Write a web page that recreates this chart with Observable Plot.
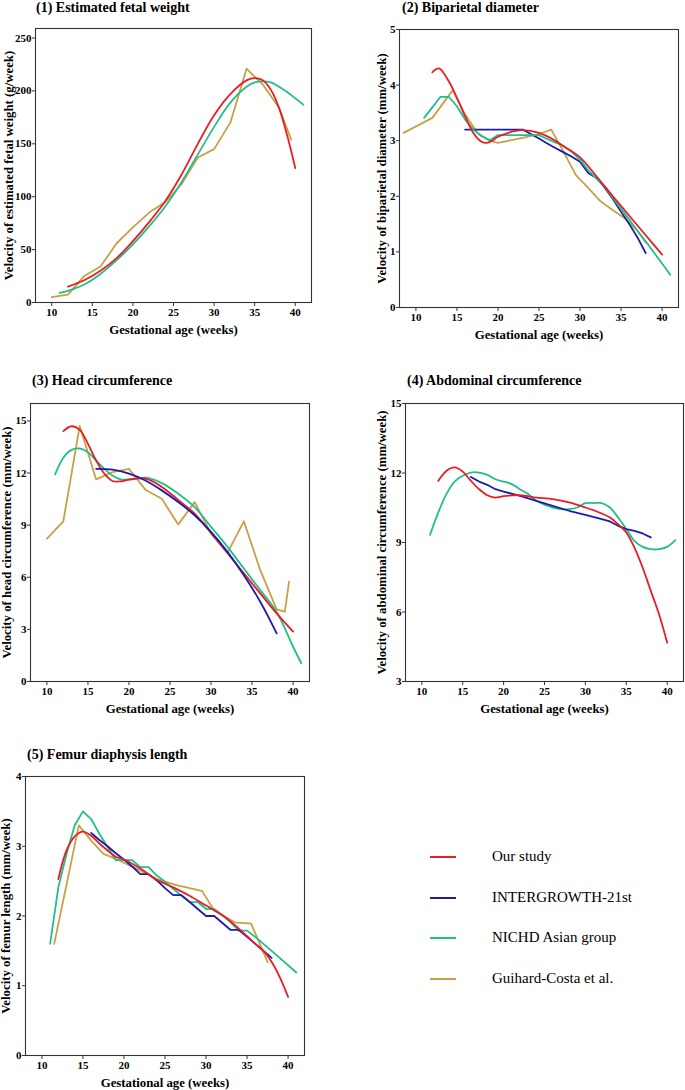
<!DOCTYPE html>
<html>
<head>
<meta charset="utf-8">
<script src="https://cdn.jsdelivr.net/npm/d3@7"></script>
<script src="https://cdn.jsdelivr.net/npm/@observablehq/plot@0.6"></script>
<style>
  body { margin: 0; background: #fff; }
  #root { position: relative; width: 685px; height: 1090px; font-family: "Liberation Serif", "Times New Roman", serif; overflow: hidden; }
  .title { position: absolute; font-weight: bold; font-size: 14px; line-height: 16px; white-space: nowrap; color: #000; }
  .leg { position: absolute; font-size: 15px; line-height: 18px; white-space: nowrap; color: #000; }
  .sw { position: absolute; height: 0; width: 26px; border-top: 2px solid; }
</style>
</head>
<body>
<div id="root"></div>
<script>
// ---------------- data ----------------
const seriesNames = ["Our study", "INTERGROWTH-21st", "NICHD Asian group", "Guihard-Costa et al."];
const xTicks = [10, 15, 20, 25, 30, 35, 40];
const xLabel = "Gestational age (weeks)";

const panelTitles = ["(1) Estimated fetal weight", "(2) Biparietal diameter", "(3) Head circumference", "(4) Abdominal circumference", "(5) Femur diaphysis length"];
const yLabels = [
  "Velocity of estimated fetal weight (g/week)",
  "Velocity of biparietal diameter (mm/week)",
  "Velocity of head circumference (mm/week)",
  "Velocity of abdominal circumference (mm/week)",
  "Velocity of femur length (mm/week)"
];
const efwTicks = [0, 50, 100, 150, 200, 250];
const bpdTicks = [0, 1, 2, 3, 4, 5];
const hcTicks = [0, 3, 6, 9, 12, 15];
const acTicks = [3, 6, 9, 12, 15];
const flTicks = [0, 1, 2, 3, 4];

// (1) Estimated fetal weight  [week, velocity]
const efwOur = [[12,15],[14,21],[16,30],[18,42],[20,58],[22,76],[24,96],[26,121],[28,150],[30,177],[32,197],[34,210],[35,212],[36,210],[37,201],[38,184],[39,158],[40,127]];
const efwNichd = [[11,9],[12,11],[14,17],[16,27],[18,40],[20,55],[22,72],[24,91],[26,114],[28,140],[30,166],[32,189],[34,204],[35,208],[36,209],[37,208],[38,204],[39,199],[40,193],[41,187]];
const efwGuihard = [[10,5],[12,7.5],[14,25],[16,34],[18,56],[20,71],[22,85],[24,95],[26,112],[28,137],[30,145],[32,170],[34,221],[36,206],[38,184],[39.5,154]];

// (2) Biparietal diameter
const bpdOur = [[12,4.23],[12.8,4.3],[14,4.07],[15,3.77],[16,3.44],[17,3.14],[18,2.98],[18.6,2.96],[19.3,3.0],[20,3.07],[22,3.17],[23,3.19],[25,3.14],[27,3.0],[28,2.9],[30,2.7],[32,2.36],[34,2.0],[36,1.65],[38,1.3],[40,0.95]];
const bpdIntergrowth = [[16,3.2],[18,3.2],[20,3.2],[22,3.2],[23,3.2],[24,3.12],[25,3.04],[26,2.95],[27,2.87],[28,2.79],[29,2.71],[30,2.62],[31,2.42],[32,2.33],[33,2.16],[34,1.95],[35,1.72],[36,1.5],[37,1.26],[38,0.98]];
const bpdNichd = [[11,3.41],[12,3.6],[13,3.79],[14,3.79],[15,3.62],[16,3.38],[17,3.2],[18,3.08],[19,3.01],[20,3.1],[21,3.1],[22,3.1],[23,3.1],[24,3.1],[25,3.1],[26,3.03],[27,2.97],[28,2.9],[29,2.8],[30,2.66],[31,2.47],[32,2.32],[33,2.18],[34,1.97],[35,1.77],[36,1.58],[37,1.38],[38,1.19],[39,0.99],[40,0.79],[41,0.59]];
const bpdGuihard = [[8.5,3.14],[12,3.41],[14.5,3.91],[16,3.47],[17.5,3.14],[19,3.0],[20,2.96],[23,3.05],[25,3.12],[26.5,3.2],[28,2.8],[29.5,2.38],[31,2.15],[32.5,1.91],[34,1.75],[35.5,1.6],[37,1.38],[38,1.17]];

// (3) Head circumference
const hcOur = [[12,14.41],[13,14.69],[14,14.48],[15,13.68],[16,12.72],[17,11.96],[18,11.54],[19,11.52],[20,11.62],[22,11.67],[24,11.2],[26,10.45],[28,9.66],[30,8.55],[32,7.4],[34,6.22],[36,5.07],[38,3.92],[40,2.87]];
const hcIntergrowth = [[16,12.24],[18,12.19],[20,11.96],[22,11.57],[24,11.0],[26,10.33],[28,9.57],[30,8.61],[32,7.46],[34,6.12],[36,4.59],[38,2.77]];
const hcNichd = [[11,11.92],[12,12.88],[13,13.33],[14,13.41],[15,13.2],[16,12.72],[17,12.24],[18,11.86],[19,11.63],[20,11.63],[22,11.73],[24,11.42],[26,10.81],[28,10.04],[30,8.9],[32,7.75],[34,6.5],[36,5.26],[38,4.0],[40,2.0],[41,1.05]];
const hcGuihard = [[10,8.23],[12,9.22],[14,14.71],[16,11.63],[18,12.05],[20,12.24],[22,11.04],[24,10.52],[26,9.03],[28,10.33],[30,8.51],[32,7.4],[34,9.22],[36,6.41],[38,4.15],[39,4.02],[39.5,5.74]];

// (4) Abdominal circumference
const acOur = [[12,11.66],[13,12.09],[14,12.24],[15,12.06],[16,11.66],[17,11.3],[18,11.04],[19,10.94],[20,11.0],[22,11.04],[24,10.94],[26,10.87],[28,10.73],[30,10.51],[32,10.25],[33,10.08],[34,9.79],[35,9.43],[36,8.78],[37,7.92],[38,6.91],[39,5.91],[40,4.68]];
const acIntergrowth = [[16,11.83],[17,11.63],[18,11.49],[19,11.3],[20,11.2],[22,11.01],[24,10.8],[26,10.58],[28,10.37],[30,10.19],[32,10.01],[33,9.91],[34,9.72],[35,9.58],[36,9.5],[37,9.39],[38,9.22]];
const acNichd = [[11,9.33],[12,10.29],[13,11.09],[14,11.63],[15,11.88],[16,12.02],[17,12.02],[18,11.92],[19,11.73],[20,11.63],[21,11.52],[22,11.3],[23,11.09],[24,10.8],[25,10.63],[26,10.51],[27,10.44],[28,10.44],[29,10.51],[30,10.7],[31,10.7],[32,10.7],[33,10.51],[34,10.08],[35,9.58],[36,9.07],[37,8.81],[38,8.71],[39,8.71],[40,8.81],[41,9.1]];

// (5) Femur diaphysis length
const flOur = [[12,2.53],[13,2.94],[14,3.14],[15,3.21],[16,3.15],[17,3.04],[18,2.94],[19,2.85],[20,2.81],[22,2.68],[24,2.52],[26,2.41],[28,2.29],[30,2.15],[32,2.01],[34,1.82],[36,1.6],[37,1.5],[38,1.34],[39,1.12],[40,0.84]];
const flIntergrowth = [[16,3.19],[17,3.09],[18,3.0],[19,2.9],[20,2.81],[21,2.71],[22,2.6],[23,2.6],[24,2.51],[25,2.4],[26,2.3],[27,2.3],[28,2.2],[29,2.1],[30,2.0],[31,2.0],[32,1.9],[33,1.8],[34,1.8],[35,1.7],[36,1.6],[37,1.5],[38,1.4]];
const flNichd = [[11,1.6],[12,2.41],[13,2.89],[14,3.3],[15,3.5],[16,3.39],[17,3.18],[18,2.99],[19,2.8],[20,2.8],[21,2.8],[22,2.7],[23,2.7],[24,2.58],[25,2.49],[26,2.39],[27,2.29],[28,2.2],[29,2.2],[30,2.1],[31,2.1],[32,2.01],[33,1.91],[34,1.79],[35,1.79],[36,1.7],[38,1.5],[41,1.19]];
const flGuihard = [[11.5,1.6],[14.5,3.3],[16,3.08],[17.5,2.89],[19,2.82],[22,2.65],[24,2.53],[26.5,2.44],[29.5,2.36],[31,2.08],[33.5,1.91],[35.5,1.89],[37.5,1.34]];

// ---------------- drawing ----------------
const COLORS = ["#ec1c24", "#1c1caa", "#20bf8b", "#c9a046"];
const FONT = "'Liberation Serif', 'Times New Roman', serif";
const root = document.getElementById("root");

function makePanel(cfg) {
  const {frame, yDomain, yTicks, yLabel, series, yLabelDx, title, titlePos} = cfg;
  const [L, T, R, B] = frame;
  const mL = cfg.mL, mT = 10, mR = cfg.mR ?? 6, mB = 42;
  const marks = [];
  series.forEach(s => {
    marks.push(Plot.line(s.data, {
      x: d => d[0], y: d => d[1],
      stroke: COLORS[s.idx], strokeWidth: 1.8, curve: s.curve
    }));
  });
  marks.push(Plot.frame({stroke: "#333", strokeWidth: 1.1}));
  marks.push(Plot.axisX({ticks: xTicks, tickFormat: d => String(d), tickSize: 4, tickPadding: 2, fontSize: 11, fontWeight: "bold", label: null, stroke: "#333"}));
  marks.push(Plot.axisY({ticks: yTicks, tickFormat: d => String(d), tickSize: 3, tickPadding: 1, fontSize: 11, fontWeight: "bold", label: null, stroke: "#333"}));
  marks.push(Plot.text([yLabel], {text: d => d, frameAnchor: "left", rotate: -90, dx: yLabelDx, fontSize: 12.8, fontWeight: "bold", textAnchor: "middle", lineAnchor: "middle", fill: "#000"}));
  marks.push(Plot.text([xLabel], {text: d => d, frameAnchor: "bottom", dy: 27, fontSize: 12.8, fontWeight: "bold", textAnchor: "middle", lineAnchor: "middle", fill: "#000"}));
  const svg = Plot.plot({
    width: mL + (R - L) + mR,
    height: mT + (B - T) + mB,
    marginLeft: mL, marginTop: mT, marginRight: mR, marginBottom: mB,
    x: {domain: [8, 42]},
    y: {domain: yDomain},
    style: {fontFamily: FONT, fontWeight: "bold", background: "transparent", overflow: "visible", color: "#000"},
    marks
  });
  svg.style.position = "absolute";
  svg.style.left = (L - mL) + "px";
  svg.style.top = (T - mT) + "px";
  root.appendChild(svg);

  const t = document.createElement("div");
  t.className = "title";
  t.textContent = title;
  t.style.left = titlePos[0] + "px";
  t.style.top = (titlePos[1] - 8) + "px";
  root.appendChild(t);
}

makePanel({
  title: panelTitles[0], titlePos: [36, 8],
  frame: [35, 28, 311, 302], mL: 35, yDomain: [0, 259], yTicks: efwTicks, yLabel: yLabels[0], yLabelDx: -27,
  series: [
    {idx: 3, data: efwGuihard, curve: "linear"},
    {idx: 2, data: efwNichd, curve: "catmull-rom"},
    {idx: 0, data: efwOur, curve: "catmull-rom"}
  ]
});
makePanel({
  title: panelTitles[1], titlePos: [402, 8],
  frame: [399, 29, 678, 307], mL: 40, yDomain: [0, 5], yTicks: bpdTicks, yLabel: yLabels[1], yLabelDx: -18,
  series: [
    {idx: 3, data: bpdGuihard, curve: "linear"},
    {idx: 1, data: bpdIntergrowth, curve: "linear"},
    {idx: 2, data: bpdNichd, curve: "linear"},
    {idx: 0, data: bpdOur, curve: "catmull-rom"}
  ]
});
makePanel({
  title: panelTitles[2], titlePos: [32, 381],
  frame: [30, 403, 309, 681], mL: 30, yDomain: [0, 16], yTicks: hcTicks, yLabel: yLabels[2], yLabelDx: -24,
  series: [
    {idx: 3, data: hcGuihard, curve: "linear"},
    {idx: 2, data: hcNichd, curve: "catmull-rom"},
    {idx: 0, data: hcOur, curve: "catmull-rom"},
    {idx: 1, data: hcIntergrowth, curve: "catmull-rom"}
  ]
});
makePanel({
  title: panelTitles[3], titlePos: [407, 381],
  frame: [405, 403, 683, 681], mL: 40, mR: 2, yDomain: [3, 15], yTicks: acTicks, yLabel: yLabels[3], yLabelDx: -24,
  series: [
    {idx: 2, data: acNichd, curve: "catmull-rom"},
    {idx: 1, data: acIntergrowth, curve: "linear"},
    {idx: 0, data: acOur, curve: "catmull-rom"}
  ]
});
makePanel({
  title: panelTitles[4], titlePos: [27, 755],
  frame: [25, 776, 304, 1055], mL: 25, yDomain: [0, 4], yTicks: flTicks, yLabel: yLabels[4], yLabelDx: -20,
  series: [
    {idx: 3, data: flGuihard, curve: "linear"},
    {idx: 2, data: flNichd, curve: "linear"},
    {idx: 1, data: flIntergrowth, curve: "linear"},
    {idx: 0, data: flOur, curve: "catmull-rom"}
  ]
});

// legend
const legendY = [857, 898, 938, 979];
seriesNames.forEach((name, i) => {
  const sw = document.createElement("div");
  sw.className = "sw";
  sw.style.borderTopColor = COLORS[i];
  sw.style.left = "430px";
  sw.style.top = (legendY[i] - 1) + "px";
  root.appendChild(sw);
  const lab = document.createElement("div");
  lab.className = "leg";
  lab.textContent = name;
  lab.style.left = "492px";
  lab.style.top = (legendY[i] - 10) + "px";
  root.appendChild(lab);
});
</script>
</body>
</html>
